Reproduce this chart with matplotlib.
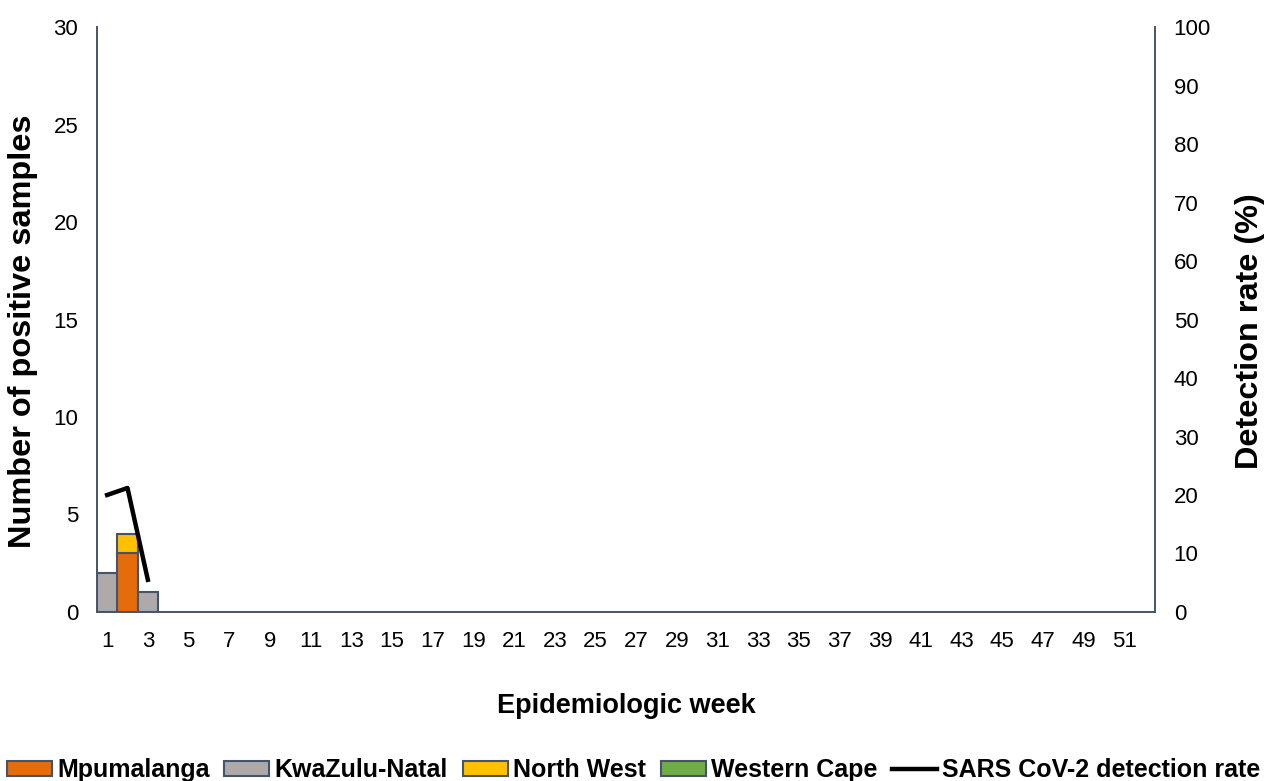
import numpy as np
import matplotlib.pyplot as plt

plt.rcParams['font.family'] = ['Liberation Sans', 'DejaVu Sans']

weeks = np.arange(1, 53)
mpumalanga = np.zeros(52)
kwazulu_natal = np.zeros(52)
north_west = np.zeros(52)
western_cape = np.zeros(52)
mpumalanga[1] = 3
kwazulu_natal[0] = 2
kwazulu_natal[2] = 1
north_west[1] = 1

rate_weeks = [1, 2, 3]
detection_rate = [20.0, 21.2, 5.5]

edge = '#44546A'
fig = plt.figure(figsize=(12.71, 7.81), dpi=100)
ax = fig.add_axes([0.0763, 0.2164, 0.8324, 0.749])

bottom = np.zeros(52)
series = [(mpumalanga, 'Mpumalanga', '#E46C0A'),
          (kwazulu_natal, 'KwaZulu-Natal', '#AEAAAA'),
          (north_west, 'North West', '#FFC000'),
          (western_cape, 'Western Cape', '#70AD47')]
handles = []
for vals, name, col in series:
    mask = vals > 0
    ax.bar(weeks[mask], vals[mask], width=1.0, bottom=bottom[mask], color=col,
           edgecolor=edge, linewidth=1.5, zorder=2)
    h = plt.Rectangle((0, 0), 1, 1, facecolor=col, edgecolor=edge, linewidth=1.5)
    handles.append((h, name))
    bottom += vals

ax.set_xlim(0.5, 52.5)
ax.set_ylim(0, 30)
ax.set_yticks(range(0, 31, 5))
ax.set_xticks(range(1, 52, 2))
ax.tick_params(length=0, labelsize=16, pad=13.5)
ax.spines['top'].set_visible(False)
for s in ['left', 'bottom', 'right']:
    ax.spines[s].set_color(edge)
    ax.spines[s].set_linewidth(1.2)
ax.set_ylabel('Number of positive samples', fontsize=23.4, fontweight='bold')
ax.yaxis.set_label_coords(-0.0558, 0.48)
ax.set_xlabel('Epidemiologic week', fontsize=19.5, fontweight='bold', labelpad=30)

ax2 = ax.twinx()
ax2.set_ylim(0, 100)
ax2.set_yticks(range(0, 101, 10))
ax2.tick_params(length=0, labelsize=16, pad=13.5)
ax2.spines['top'].set_visible(False)
for s in ['left', 'bottom', 'right']:
    ax2.spines[s].set_color(edge)
    ax2.spines[s].set_linewidth(1.2)
line, = ax2.plot(rate_weeks, detection_rate, color='black', linewidth=3.2, zorder=3)
ax2.set_ylabel('Detection rate (%)', fontsize=23.4, fontweight='bold')
ax2.yaxis.set_label_coords(1.0756, 0.48)

hs = [h for h, n in handles] + [line]
ls = [n for h, n in handles] + ['SARS CoV-2 detection rate']
fig.legend(hs, ls, loc='upper center', bbox_to_anchor=(0.4985, 0.029), ncol=5, frameon=False,
           prop={'size': 18, 'weight': 'bold'}, handlelength=1.8,
           handleheight=0.52, columnspacing=0.6, handletextpad=0.2, borderpad=0,
           borderaxespad=0)

fig.savefig('out.png', dpi=100)
